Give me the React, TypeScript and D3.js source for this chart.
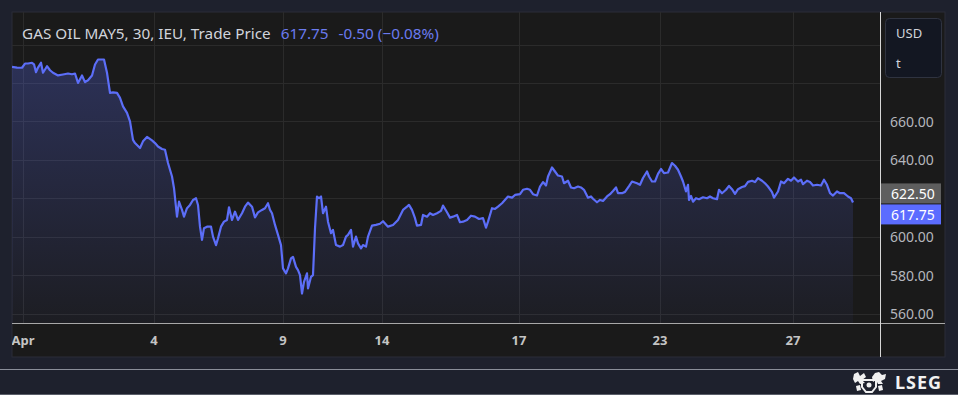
import React from 'react';
import * as d3 from 'd3';

// 30 min bars, position on the bar axis + trade price
const bars = [
  0, 5, 10, 13, 16, 20, 22, 24, 26, 29,
  31, 35, 38, 41, 46, 51, 56, 60, 63, 66,
  70, 73, 76, 80, 83, 86, 90, 92, 95, 98,
  101, 105, 108, 111, 115, 118, 121, 123, 128, 131,
  135, 140, 143, 146, 150, 153, 156, 160, 162, 165,
  167, 170, 172, 175, 178, 181, 184, 186, 188, 190,
  192, 195, 199, 201, 204, 206, 209, 212, 215, 217,
  220, 223, 226, 230, 233, 236, 240, 243, 246, 250,
  253, 256, 258, 260, 263, 266, 269, 271, 274, 276,
  279, 281, 284, 286, 288, 290, 292, 295, 296, 299,
  301, 303, 305, 307, 309, 311, 314, 316, 319, 321,
  324, 328, 331, 334, 336, 339, 341, 344, 346, 349,
  351, 354, 356, 360, 364, 368, 371, 376, 381, 386,
  391, 395, 397, 400, 403, 405, 409, 411, 415, 418,
  421, 425, 429, 431, 435, 438, 441, 445, 448, 451,
  455, 459, 463, 467, 471, 474, 476, 480, 483, 486,
  490, 494, 496, 500, 503, 508, 511, 515, 518, 521,
  525, 528, 531, 534, 536, 540, 543, 546, 550, 552,
  556, 559, 562, 566, 569, 572, 576, 579, 581, 585,
  588, 591, 595, 598, 601, 604, 606, 610, 613, 617,
  620, 625, 628, 631, 635, 637, 640, 643, 646, 649,
  652, 656, 660, 663, 666, 669, 671, 674, 676, 677,
  679, 681, 684, 687, 691, 695, 698, 701, 705, 707,
  710, 714, 717, 720, 723, 726, 730, 733, 736, 740,
  743, 746, 750, 753, 756, 760, 762, 766, 769, 772,
  776, 779, 782, 786, 789, 791, 795, 798, 801, 805,
  809, 812, 815, 818, 821, 825, 828, 832, 836, 839,
  841,
];

const prices = [
  688.4, 688.0, 687.9, 690.1, 690.1, 690.5, 689.7, 685.6, 688.0, 690.5,
  685.3, 688.7, 686.6, 685.3, 683.9, 684.4, 684.9, 684.5, 684.9, 680.0,
  683.9, 680.4, 681.4, 683.9, 689.6, 692.2, 692.2, 692.2, 685.3, 674.8,
  675.1, 674.8, 672.2, 667.8, 664.4, 660.0, 650.4, 648.7, 646.1, 649.6,
  651.9, 650.1, 648.7, 646.9, 645.6, 645.2, 638.3, 631.3, 625.2, 610.4,
  618.2, 613.9, 610.4, 614.8, 616.5, 619.1, 620.0, 616.5, 605.2, 598.3,
  604.4, 605.2, 605.2, 600.0, 595.6, 599.1, 605.2, 607.8, 608.7, 615.3,
  608.7, 613.0, 608.7, 612.2, 615.6, 617.7, 615.6, 610.0, 612.6, 613.9,
  614.8, 617.4, 613.9, 612.2, 606.1, 600.9, 595.6, 583.5, 580.9, 583.5,
  588.7, 589.5, 584.3, 582.6, 580.0, 570.4, 576.5, 580.9, 573.0, 579.1,
  580.0, 604.4, 620.9, 620.0, 620.9, 612.2, 615.6, 607.8, 601.8, 603.5,
  595.6, 594.8, 595.6, 600.0, 600.9, 603.5, 594.8, 600.0, 596.5, 593.9,
  595.6, 594.8, 600.0, 605.7, 606.1, 606.7, 608.0, 605.2, 606.1, 608.7,
  613.9, 615.6, 616.5, 613.9, 609.6, 605.7, 606.1, 611.3, 610.4, 612.2,
  611.3, 612.2, 613.4, 616.2, 612.7, 609.9, 610.4, 611.3, 607.5, 607.8,
  608.7, 610.9, 610.4, 609.2, 609.6, 604.7, 607.8, 614.8, 614.4, 615.6,
  617.4, 619.7, 620.9, 620.3, 621.7, 622.1, 624.4, 624.9, 624.4, 622.1,
  621.4, 626.1, 628.4, 626.6, 631.3, 636.0, 633.9, 631.8, 631.3, 627.8,
  629.1, 625.6, 625.2, 626.1, 625.6, 624.4, 620.3, 620.9, 619.7, 617.9,
  619.1, 618.6, 620.9, 622.1, 623.8, 625.6, 622.6, 622.6, 623.3, 626.3,
  628.7, 627.8, 627.0, 630.5, 633.9, 631.3, 628.7, 628.7, 632.7, 635.2,
  633.1, 633.4, 638.3, 636.9, 634.8, 631.3, 628.7, 623.5, 627.0, 619.1,
  621.2, 618.2, 620.0, 619.5, 620.5, 620.0, 620.9, 620.0, 619.5, 624.4,
  622.6, 624.4, 626.4, 624.7, 622.3, 624.7, 625.8, 626.3, 628.5, 629.1,
  628.4, 630.5, 629.1, 627.8, 626.1, 623.2, 620.3, 623.5, 628.7, 627.8,
  630.1, 629.1, 630.8, 628.7, 629.6, 627.3, 629.1, 628.4, 626.6, 627.0,
  626.6, 629.6, 627.0, 622.6, 621.4, 623.5, 622.6, 622.6, 620.9, 620.0,
  617.75,
];

const xTickBars = [11, 142, 271, 370, 507, 648, 781];
const xTickLabels = ['Apr', '4', '9', '14', '17', '23', '27'];
const yGridValues = [560, 580, 600, 620, 640, 660, 680, 700];
const yLabelValues = [560, 580, 600, 640, 660];
const lastPrice = 617.75;
const prevClose = 622.5;
const title = 'GAS OIL MAY5, 30, IEU, Trade Price';
const changeText = '-0.50 (\u22120.08%)';
const unitLines = ['USD', 't'];

const W = 958;
const H = 395;
const panel = { x: 12, y: 12, w: 933, h: 345 };
const plotRight = 880;
const axisY = 323;
const font = '"Noto Sans", sans-serif';
const blue = '#5c6ef8';

const App = () => {
  const x = d3.scaleLinear().domain([0, 868]).range([panel.x, plotRight]);
  const y = d3.scaleLinear().domain([560, 700]).range([313.5, 44.5]);

  const pts = bars.map((b, i) => [b, prices[i]] as [number, number]);
  const line = d3.line<[number, number]>().x(d => x(d[0])).y(d => y(d[1]));
  const area = d3
    .area<[number, number]>()
    .x(d => x(d[0]))
    .y0(axisY)
    .y1(d => y(d[1]));

  const prevY = y(prevClose);
  const lastY = Math.max(y(lastPrice), prevY + 11 + 10);

  return (
    <svg width={W} height={H} style={{ position: 'absolute', left: 0, top: 0 }}>
      <defs>
        <clipPath id="plot">
          <rect x={panel.x} y={panel.y} width={plotRight - panel.x} height={axisY - panel.y} />
        </clipPath>
        <linearGradient id="fillGrad" gradientUnits="userSpaceOnUse" x1="0" y1="55" x2="0" y2={axisY}>
          <stop offset="0%" stopColor={blue} stopOpacity={0.28} />
          <stop offset="100%" stopColor={blue} stopOpacity={0.04} />
        </linearGradient>
      </defs>
      <rect width={W} height={H} fill="#1e212d" />
      <rect x={panel.x} y={panel.y} width={panel.w} height={panel.h} fill="#1a1a1a" stroke="#2a2d38" />

      <g clipPath="url(#plot)">
        {yGridValues.map(v => (
          <line key={v} x1={panel.x} x2={plotRight} y1={Math.round(y(v)) + 0.5} y2={Math.round(y(v)) + 0.5} stroke="#2b2b2b" />
        ))}
        {xTickBars.map(b => (
          <line key={b} x1={Math.round(x(b)) + 0.5} x2={Math.round(x(b)) + 0.5} y1={panel.y} y2={axisY} stroke="#2b2b2b" />
        ))}
        <path d={area(pts) || ''} fill="url(#fillGrad)" />
        <path d={line(pts) || ''} fill="none" stroke={blue} strokeWidth={2.2} strokeLinejoin="round" />
      </g>

      <text x={22} y={33} dominantBaseline="central" fontFamily={font} fontSize={15.3} fill="#d1d4dc">
        {title}
        <tspan dx={10} fill="#6b7bef">{lastPrice.toFixed(2)}</tspan>
        <tspan dx={10} fill="#6b7bef">{changeText}</tspan>
      </text>

      {/* axes frame */}
      <line x1={panel.x} x2={panel.x + panel.w} y1={axisY + 0.5} y2={axisY + 0.5} stroke="#a8a8a8" />
      <line x1={plotRight + 0.5} x2={plotRight + 0.5} y1={panel.y} y2={panel.y + panel.h} stroke="#d6d6d6" />

      <svg x={panel.x} y={axisY} width={plotRight - panel.x} height={panel.y + panel.h - axisY} overflow="hidden">
        {xTickBars.map((b, i) => (
          <text key={b} x={x(b) - panel.x} y={17} textAnchor="middle" dominantBaseline="central" fontFamily={font} fontSize={13} fontWeight="bold" fill="#c4c4c4">
            {xTickLabels[i]}
          </text>
        ))}
      </svg>

      {yLabelValues.map(v => (
        <text key={v} x={890} y={y(v)} dominantBaseline="central" fontFamily={font} fontSize={14} fill="#b4b6bd">
          {v.toFixed(2)}
        </text>
      ))}

      <rect x={plotRight + 1} y={prevY - 10} width={60} height={20} fill="#5e5e5e" />
      <text x={891} y={prevY} dominantBaseline="central" fontFamily={font} fontSize={14} fill="#ffffff">
        {prevClose.toFixed(2)}
      </text>
      <rect x={plotRight + 1} y={lastY - 10} width={60} height={20} fill="#5b6cff" />
      <text x={891} y={lastY} dominantBaseline="central" fontFamily={font} fontSize={14} fill="#ffffff">
        {lastPrice.toFixed(2)}
      </text>

      <rect x={885.5} y={18.5} width={56} height={59} rx={4} fill="#131722" stroke="#2f3340" />
      {unitLines.map((t, i) => (
        <text key={t} x={896} y={33 + i * 30} dominantBaseline="central" fontFamily={font} fontSize={13} fill="#d1d4dc">
          {t}
        </text>
      ))}

      {/* footer */}
      <line x1={0} x2={W} y1={369.5} y2={369.5} stroke="#8a8e99" />
      <line x1={0} x2={W} y1={394.5} y2={394.5} stroke="#5a5e69" />
      <g fill="#f0f0f0" transform="translate(852,372)">
        <path d="M2 2 L6 0 L8 4 L12 1 L14 5 L10 8 L13 11 L8 12 L6 9 L3 11 L1 7 Z" />
        <path d="M23 1 L27 0 L30 3 L34 2 L33 7 L29 9 L31 12 L26 12 L24 8 L21 10 L20 5 Z" />
        <path d="M10 8 L24 8 L24 15 L20 20 L14 20 L10 15 Z" fill="none" stroke="#f0f0f0" strokeWidth={2} />
        <circle cx={17} cy={13} r={2.5} />
        <path d="M4 14 L8 13 L9 18 L5 19 Z" />
        <path d="M26 14 L30 13 L31 18 L27 19 Z" />
      </g>
      <text x={895} y={382} dominantBaseline="central" fontFamily={font} fontSize={18} fontWeight="bold" fill="#f2f2f2" letterSpacing={1}>
        LSEG
      </text>
    </svg>
  );
};

export default App;
